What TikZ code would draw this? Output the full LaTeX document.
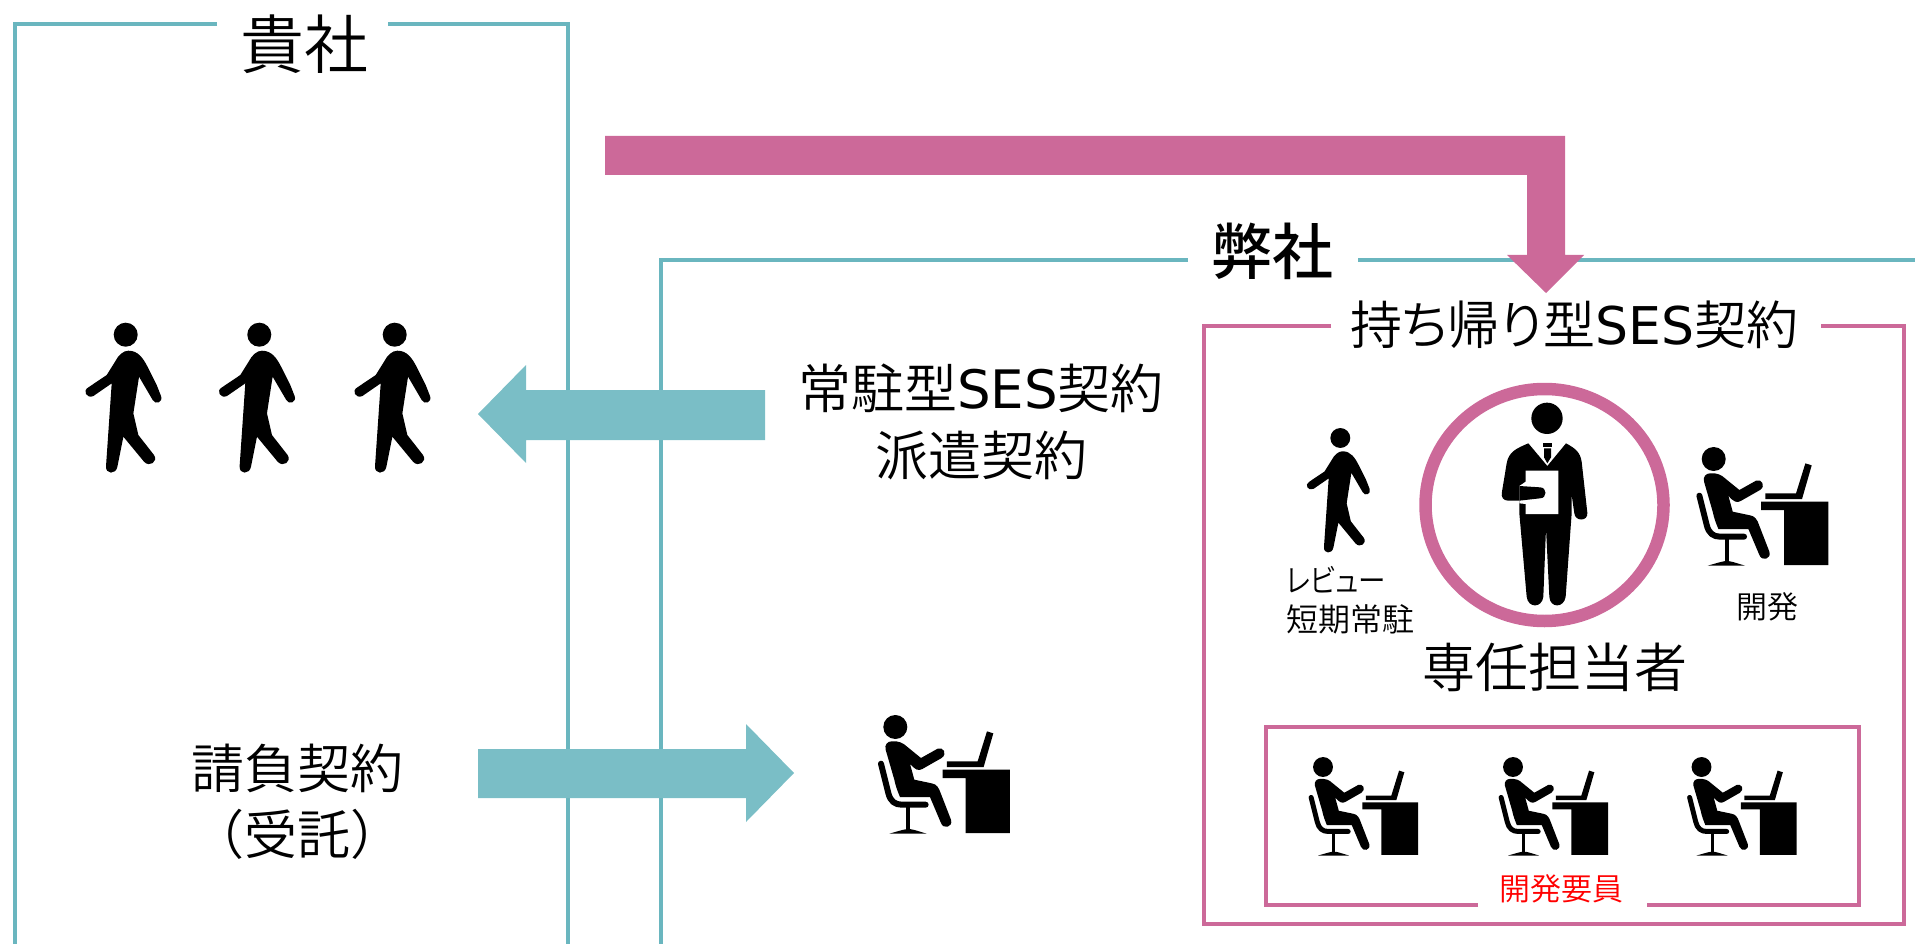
\documentclass[tikz,border=0pt]{standalone}
\usepackage{fontspec}
\setmainfont{Noto Sans CJK JP}[UprightFont=* DemiLight,BoldFont=* Medium]
\newfontfamily\paltf{Noto Sans CJK JP}[UprightFont=* DemiLight,RawFeature=+palt]
\newfontfamily\latinf{DejaVu Sans}[Scale=1]
\newcommand{\fsz}[1]{\fontsize{#1}{#1}\selectfont}
\newcommand{\ses}{{\latinf SES}}
\definecolor{tealc}{HTML}{7ABEC6}
\definecolor{tealL}{HTML}{6AB6BF}
\definecolor{pinkc}{HTML}{CC6999}
\tikzset{
 tealline/.style={draw=tealL,line width=3.6pt,line cap=butt},
 pinkline/.style={draw=pinkc,line width=3.6pt},
 lbl/.style={inner sep=0pt,align=center,text=black},
}
\newcommand{\walkerfig}[3]{%
\begin{scope}[shift={(#1,#2)},scale=#3/3,shift={(-197,-104)}]
 \fill (197,104) circle (36);
 \fill (205,152) .. controls (235,152) and (250,175) .. (265,205)
   -- (290,255) -- (303,288) .. controls (310,306) and (286,316) .. (278,300)
   -- (237,230) -- (220,340) -- (235,405) -- (282,465)
   .. controls (295,485) and (268,503) .. (252,485)
   -- (190,410) -- (172,500) .. controls (168,524) and (136,524) .. (138,498)
   -- (155,250) -- (100,288) .. controls (80,297) and (66,272) .. (85,262)
   -- (140,225) -- (165,185) .. controls (175,165) and (190,152) .. (205,152) -- cycle;
\end{scope}}
\newcommand{\deskfig}[3]{%
\begin{scope}[shift={(#1,#2)},scale=#3/3,shift={(-161,-87)}]
 \fill (161,87) circle (36);
 \fill (150,130) .. controls (170,128) and (185,135) .. (195,145) -- (238,180) -- (288,152)
   .. controls (305,145) and (318,168) .. (300,180) -- (242,213) .. controls (230,220) and (220,215) .. (205,197)
   -- (218,245) -- (270,256) .. controls (285,258) and (292,270) .. (297,285) -- (328,365)
   .. controls (335,388) and (305,395) .. (298,375) -- (265,297) -- (175,297)
   .. controls (168,280) and (162,265) .. (158,245) -- (132,155) .. controls (128,140) and (138,130) .. (150,130) -- cycle;
 \draw[line width=#3*6pt,line cap=round,line join=round] (118,197) -- (140,285) .. controls (146,310) and (160,320) .. (180,320) -- (252,320);
 \draw[line width=#3*4pt] (200,322) -- (200,398);
 \fill (143,407) .. controls (175,398) and (190,393) .. (200,393) .. controls (212,393) and (225,398) .. (255,407) -- cycle;
 \fill (436,100) -- (455,106) -- (426,207) -- (316,207) -- (316,190) -- (408,190) -- cycle;
 \fill (303,215) -- (505,215) -- (505,405) -- (372,405) -- (372,240) -- (303,240) -- cycle;
\end{scope}}
\begin{document}
\begin{tikzpicture}[x=1pt,y=-1pt]
\useasboundingbox (0,0) rectangle (1915,944);
% frames
\draw[tealline] (217,24) -- (15,24) -- (15,944);
\draw[tealline] (388,24) -- (568,24) -- (568,944);
\draw[tealline] (1188,260) -- (661,260) -- (661,944);
\draw[tealline] (1358,260) -- (1915,260);
% arrows
\fill[pinkc] (605,136) -- (1565,136) -- (1565,255) -- (1584,255) -- (1546,293) -- (1507,255) -- (1527,255) -- (1527,175) -- (605,175) -- cycle;
\fill[tealc] (478,414) -- (526,365) -- (526,390) -- (765,390) -- (765,440) -- (526,440) -- (526,463) -- cycle;
\fill[tealc] (478,749) -- (746,749) -- (746,724) -- (794,773) -- (746,822) -- (746,798) -- (478,798) -- cycle;
\draw[pinkline] (1331,326) -- (1204,326) -- (1204,924) -- (1904,924) -- (1904,326) -- (1821,326);
\draw[pinkline] (1478,905) -- (1266,905) -- (1266,727) -- (1859,727) -- (1859,905) -- (1647,905);
\draw[draw=pinkc,line width=12.5pt] (1544.5,505) ellipse [x radius=119,y radius=116];
% texts
\node[lbl] (kisha) at (304,44) {\fsz{64}貴社};
\node[lbl,font=\bfseries] (heisha) at (1272,251) {\fsz{61}弊社};
\node[lbl] (mochi) at (1574,325) {\fsz{52}\paltf 持ち帰り型\ses 契約};
\node[lbl] (jochu) at (981,388) {\fsz{53}常駐型\ses 契約};
\node[lbl] (haken) at (981,455) {\fsz{53}派遣契約};
\node[lbl] (ukeoi) at (297,768) {\fsz{53}請負契約};
\node[lbl] (jutaku) at (297,834) {\fsz{53}（受託）};
\node[lbl,anchor=west,xscale=0.86] (review) at (1286,580) {\fsz{32}\paltf レビュー};
\node[lbl,anchor=west] (tanki) at (1286,619) {\fsz{32}短期常駐};
\node[lbl] (kaihatsu) at (1767,607) {\fsz{31}開発};
\node[lbl] (senin) at (1555,667) {\fsz{53}専任担当者};
\node[lbl,text=red] (yoin) at (1561,889) {\fsz{31}開発要員};
% figures
\walkerfig{125.7}{334.7}{1}
\walkerfig{259.3}{334.7}{1}
\walkerfig{394.7}{334.7}{1}
\walkerfig{1340.3}{438}{0.83}
\deskfig{1713.7}{459}{1}
\deskfig{895.3}{727}{1}
\deskfig{1323}{767}{0.83}
\deskfig{1513}{767}{0.83}
\deskfig{1701.5}{767}{0.83}
% manager
\begin{scope}[shift={(1260,380)},scale=1/3]
 \fill (861,115) circle (47);
 \fill (805,190) -- (862,258) -- (918,190) .. controls (945,205) and (960,215) .. (965,245)
  -- (982,398) .. controls (985,425) and (945,425) .. (943,400) -- (935,345) -- (935,400)
  -- (917,650) .. controls (912,685) and (870,685) .. (868,650) -- (858,445) -- (850,650)
  .. controls (846,685) and (804,685) .. (800,650) -- (778,400) -- (778,362) -- (745,362)
  .. controls (730,362) and (722,352) .. (726,335) -- (740,250) .. controls (746,215) and (770,205) .. (805,190) -- cycle;
 \fill (850,188) -- (875,188) -- (875,200) -- (850,200) -- cycle;
 \fill (852,205) -- (873,205) -- (873,232) -- (862,250) -- (852,232) -- cycle;
 \fill[white] (797,272) -- (895,272) -- (895,402) -- (797,402) -- (797,372) -- (778,370) -- (778,318) -- (797,305) -- cycle;
 \fill (778,318) -- (840,322) .. controls (862,322) and (862,355) .. (840,355) -- (778,362) -- cycle;
\end{scope}
\end{tikzpicture}
\end{document}
